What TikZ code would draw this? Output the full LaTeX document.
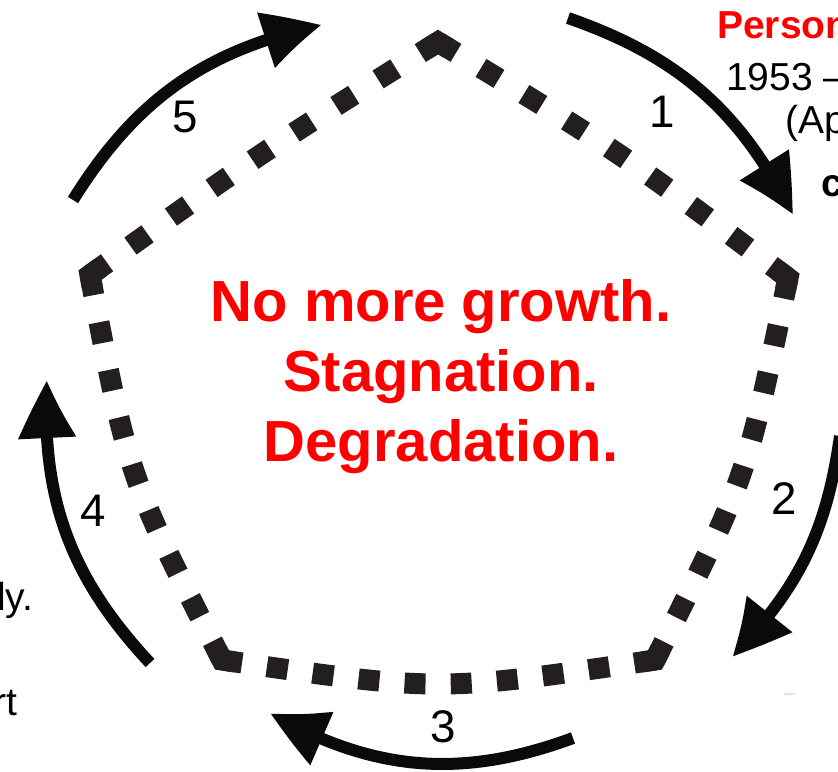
\documentclass[tikz,border=0pt]{standalone}
\usepackage{fontspec}
\setmainfont{Liberation Sans}
\usetikzlibrary{arrows.meta,calc,bending}
\definecolor{dashcol}{HTML}{231F20}
\definecolor{arrowcol}{HTML}{0A0A0A}
\definecolor{redtxt}{HTML}{FF0000}
\begin{document}
\begin{tikzpicture}[x=0.03cm,y=-0.03cm,
  edge/.style={line width=0.63cm, draw=dashcol},
  corner/.style={line width=0.63cm, draw=dashcol, line join=miter},
  cyc/.style={line width=0.36cm, draw=arrowcol, -{Triangle[length=1.8cm,width=1.62cm,bend]}},
  num/.style={font=\fontsize{39}{39}\selectfont, inner sep=0},
  big/.style={font=\fontsize{49.5}{50}\selectfont\bfseries, text=redtxt, inner sep=0, anchor=base},
  side/.style={font=\fontsize{33.3}{34}\selectfont, inner sep=0},
  sidebold/.style={font=\fontsize{33.3}{34}\selectfont\bfseries, inner sep=0},
]
\useasboundingbox (0,0) rectangle (838,771);

% pentagon vertices and edge control points
\coordinate (V1) at (438,42);
\coordinate (V2) at (788,278);
\coordinate (V3) at (655,660);
\coordinate (V4) at (222,660);
\coordinate (V5) at (90,275);
\coordinate (C1) at (260.3,153.0);
\coordinate (C2) at (619.0,151.2);
\coordinate (C3) at (746.7,477.8);
\coordinate (C4) at (438.5,692);
\coordinate (C5) at (128.3,477.0);

% dotted edges
\draw[edge, dash pattern=on 0.63cm off 0.8625cm] (V5) .. controls (C1) .. (V1);
\draw[edge, dash pattern=on 0.63cm off 0.876cm]  (V1) .. controls (C2) .. (V2);
\draw[edge, dash pattern=on 0.63cm off 0.819cm]  (V2) .. controls (C3) .. (V3);
\draw[edge, dash pattern=on 0.63cm off 0.756cm]  (V3) .. controls (C4) .. (V4);
\draw[edge, dash pattern=on 0.63cm off 0.8295cm] (V4) .. controls (C5) .. (V5);

% mitred corner pieces
\draw[corner] ($(V1)!0.06!(C1)$) -- (V1) -- ($(V1)!0.06!(C2)$);
\draw[corner] ($(V2)!0.06!(C2)$) -- (V2) -- ($(V2)!0.06!(C3)$);
\draw[corner] ($(V3)!0.06!(C3)$) -- (V3) -- ($(V3)!0.06!(C4)$);
\draw[corner] ($(V4)!0.06!(C4)$) -- (V4) -- ($(V4)!0.06!(C5)$);
\draw[corner] ($(V5)!0.06!(C5)$) -- (V5) -- ($(V5)!0.06!(C1)$);

% cycle arrows
\coordinate (a1s) at (568,18);  \coordinate (a1e) at (793,215);
\coordinate (a2s) at (840,436); \coordinate (a2e) at (732,657);
\coordinate (a3s) at (573,738); \coordinate (a3e) at (270,713);
\coordinate (a4s) at (150,663); \coordinate (a4e) at (47,380);
\coordinate (a5s) at (73,200);  \coordinate (a5e) at (322,25);
\draw[cyc] (a1s) to[bend left=22] (a1e);
\draw[cyc] (a2s) to[bend left=18] (a2e);
\draw[cyc] (a3s) to[bend left=25] (a3e);
\draw[cyc] (a4s) to[bend left=23] (a4e);
\draw[cyc] (a5s) to[bend left=23] (a5e);

% step numbers
\node[num] (n1) at (662,112) {1};
\node[num] (n2) at (784,499) {2};
\node[num] (n3) at (443,727) {3};
\node[num] (n4) at (93,511) {4};
\node[num] (n5) at (185,117) {5};

% centre text
\node[big] (t1) at (441,321) {No more growth.};
\node[big] (t2) at (441,391) {Stagnation.};
\node[big] (t3) at (441,461) {Degradation.};

% cut-off side texts
\node[sidebold, anchor=base west, text=redtxt] (p1) at (717,38) {Person};
\node[side, anchor=base west] (p2) at (726,90) {1953 –};
\node[side, anchor=base west] (p3) at (785,133) {(Ap};
\node[sidebold, anchor=base west] (p4) at (821,196) {c};
\node[side, anchor=base east] (l1) at (33.5,610) {ly.};
\node[side, anchor=base east] (l2) at (18,715) {rt};

% faint mark
\node[font=\fontsize{3}{3}\selectfont, text=gray!60, inner sep=0] (wm) at (790,695) {gibbsm};
\end{tikzpicture}
\end{document}
